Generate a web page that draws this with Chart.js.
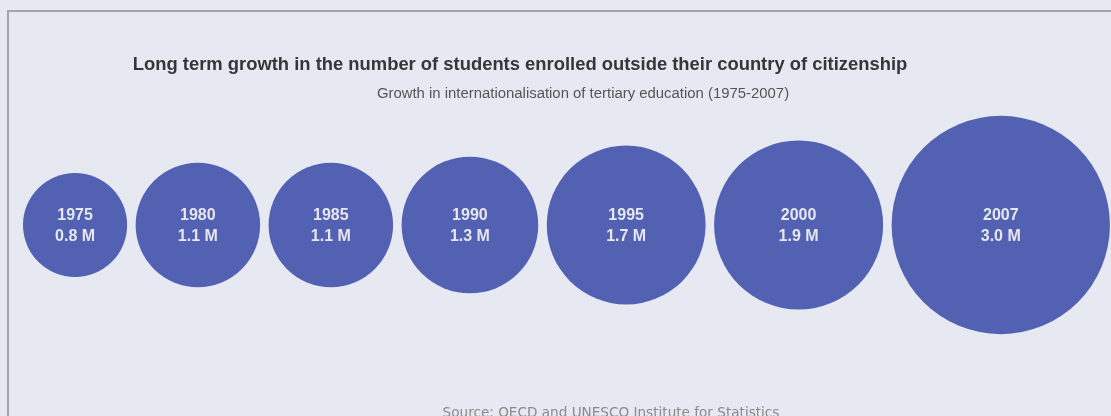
<!DOCTYPE html>
<html>
<head>
<meta charset="utf-8">
<script src="https://cdn.jsdelivr.net/npm/chart.js@4.4.0/dist/chart.umd.min.js"></script>
<style>
  html, body { margin: 0; padding: 0; background: #e7e9f2; }
  #wrap { position: relative; width: 1111px; height: 416px; }
</style>
</head>
<body>
<div id="wrap"><canvas id="bubble-chart" width="1111" height="416"></canvas></div>
<script>
const years = ["1975", "1980", "1985", "1990", "1995", "2000", "2007"];
const students = [0.8, 1.1, 1.1, 1.3, 1.7, 1.9, 3.0]; // millions
const titleText = "Long term growth in the number of students enrolled outside their country of citizenship";
const subtitleText = "Growth in internationalisation of tertiary education (1975-2007)";
const sourceText = "Source: OECD and UNESCO Institute for Statistics";

// bubble size grows with enrolment
function radiusFor(v) {
  return 59 * Math.pow(v, 0.56);
}

// bubbles are packed side by side, left to right
const gap = 8.5;
let cursor = 23;
const points = students.map(v => {
  const r = radiusFor(v);
  const p = { x: cursor + r, y: 0, r: r };
  cursor += 2 * r + gap;
  return p;
});

const framePlugin = {
  id: "frame",
  beforeDraw(chart) {
    const ctx = chart.ctx;
    ctx.save();
    ctx.fillStyle = "#e7e9f2";
    ctx.fillRect(0, 0, chart.width, chart.height);
    ctx.strokeStyle = "#a2a5ae";
    ctx.lineWidth = 2;
    ctx.beginPath();
    ctx.moveTo(8, chart.height);
    ctx.lineTo(8, 11);
    ctx.lineTo(chart.width, 11);
    ctx.stroke();
    ctx.restore();
  },
  afterDatasetsDraw(chart) {
    const ctx = chart.ctx;
    const meta = chart.getDatasetMeta(0);
    ctx.save();
    ctx.fillStyle = "#e6e7ef";
    ctx.font = "bold 16px 'Liberation Sans', Arial, sans-serif";
    ctx.textAlign = "center";
    ctx.textBaseline = "middle";
    meta.data.forEach((el, i) => {
      ctx.fillText(years[i], el.x, el.y - 9);
      ctx.fillText(students[i].toFixed(1) + " M", el.x, el.y + 12);
    });
    ctx.restore();
  },
  afterDraw(chart) {
    const ctx = chart.ctx;
    ctx.save();
    ctx.textAlign = "center";
    ctx.textBaseline = "alphabetic";
    ctx.fillStyle = "#363636";
    ctx.font = "bold 18.4px 'Liberation Sans', Arial, sans-serif";
    ctx.fillText(titleText, 520, 70);
    ctx.fillStyle = "#555555";
    ctx.font = "14.9px 'Liberation Sans', Arial, sans-serif";
    ctx.fillText(subtitleText, 583, 98);
    ctx.fillStyle = "#8a8a8a";
    ctx.font = "13.6px 'DejaVu Sans', sans-serif";
    ctx.fillText(sourceText, 611, 417);
    ctx.restore();
  }
};

new Chart(document.getElementById("bubble-chart"), {
  type: "bubble",
  data: {
    datasets: [{
      data: points,
      backgroundColor: "#5361b2",
      borderWidth: 0,
      hoverRadius: 0,
      clip: false
    }]
  },
  options: {
    responsive: false,
    animation: false,
    events: [],
    layout: { autoPadding: false, padding: { top: 34, left: 0, right: 0, bottom: 0 } },
    scales: {
      x: { type: "linear", display: false, min: 0, max: 1111 },
      y: { type: "linear", display: false, min: -1, max: 1 }
    },
    plugins: {
      legend: { display: false },
      tooltip: { enabled: false }
    }
  },
  plugins: [framePlugin]
});
</script>
</body>
</html>
